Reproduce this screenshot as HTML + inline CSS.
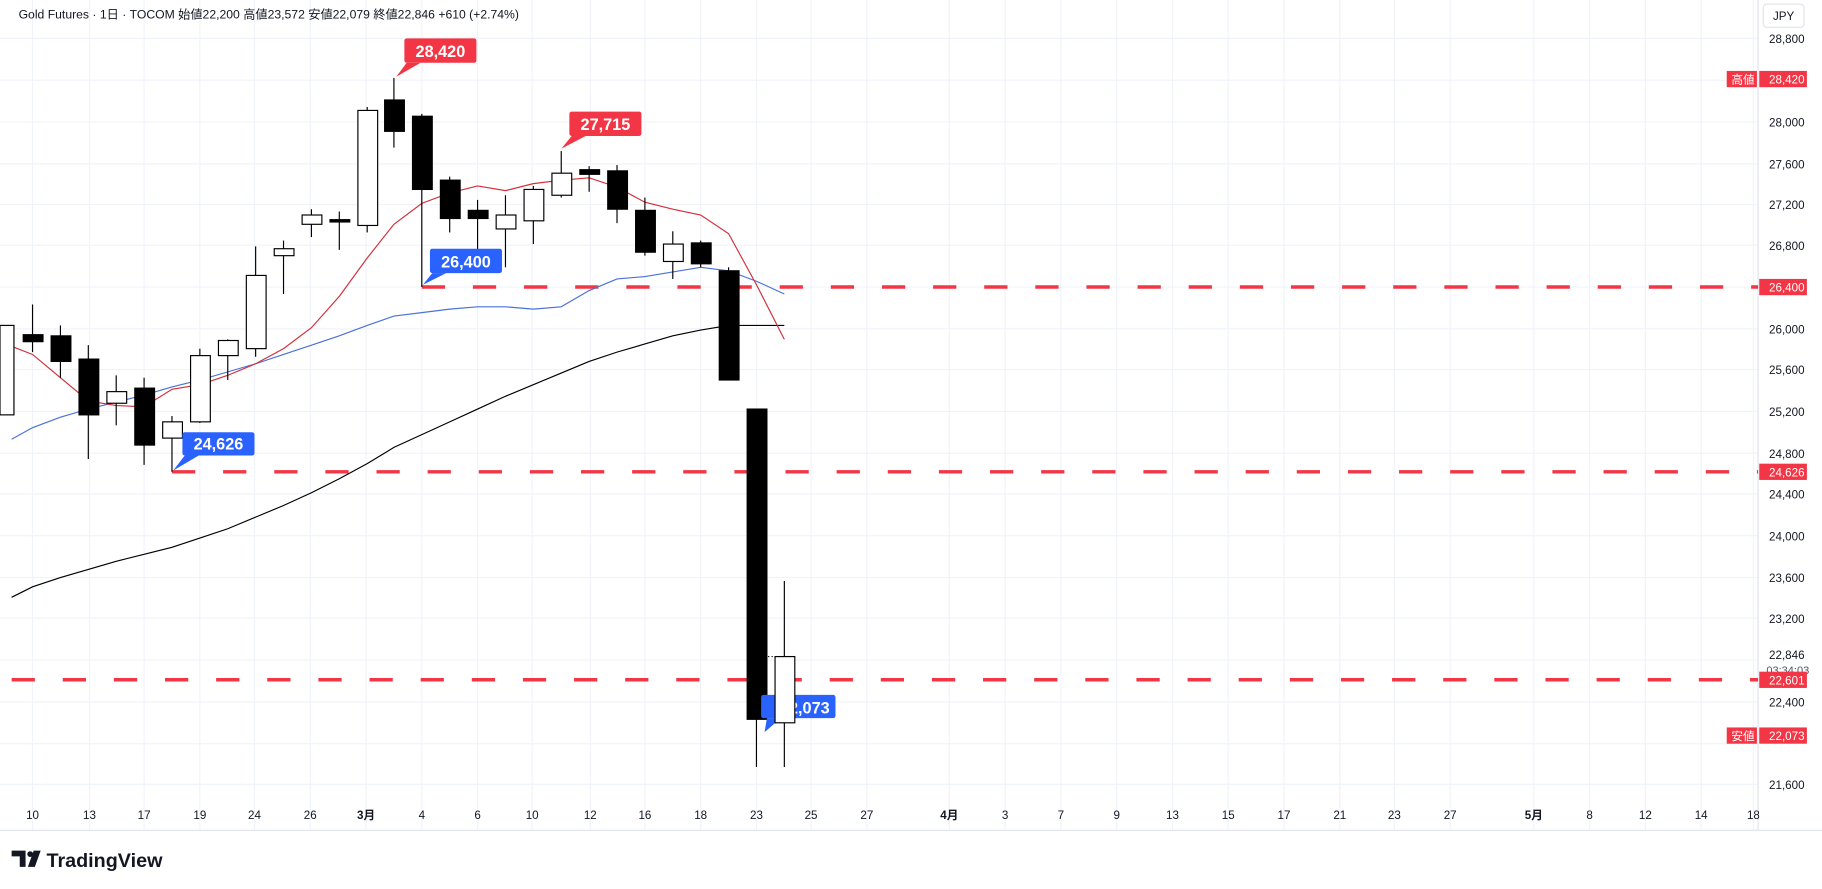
<!DOCTYPE html><html><head><meta charset="utf-8"><style>html,body{margin:0;padding:0;background:#fff}svg{display:block}</style></head><body>
<svg width="1822" height="889" viewBox="0 0 1568 765" xmlns="http://www.w3.org/2000/svg" font-family="Liberation Sans, Noto Sans CJK JP, sans-serif">
<rect width="1568" height="765" fill="#fff"/>
<g stroke="#f0f3fa" stroke-width="1">
<line x1="0" x2="1513" y1="33" y2="33"/><line x1="0" x2="1513" y1="69" y2="69"/><line x1="0" x2="1513" y1="105" y2="105"/><line x1="0" x2="1513" y1="141" y2="141"/><line x1="0" x2="1513" y1="176" y2="176"/><line x1="0" x2="1513" y1="211" y2="211"/><line x1="0" x2="1513" y1="247" y2="247"/><line x1="0" x2="1513" y1="283" y2="283"/><line x1="0" x2="1513" y1="318" y2="318"/><line x1="0" x2="1513" y1="354" y2="354"/><line x1="0" x2="1513" y1="390" y2="390"/><line x1="0" x2="1513" y1="425" y2="425"/><line x1="0" x2="1513" y1="461" y2="461"/><line x1="0" x2="1513" y1="497" y2="497"/><line x1="0" x2="1513" y1="532" y2="532"/><line x1="0" x2="1513" y1="568" y2="568"/><line x1="0" x2="1513" y1="604" y2="604"/><line x1="0" x2="1513" y1="640" y2="640"/><line x1="0" x2="1513" y1="675" y2="675"/>
<line x1="28" x2="28" y1="0" y2="714"/><line x1="77" x2="77" y1="0" y2="714"/><line x1="124" x2="124" y1="0" y2="714"/><line x1="172" x2="172" y1="0" y2="714"/><line x1="219" x2="219" y1="0" y2="714"/><line x1="267" x2="267" y1="0" y2="714"/><line x1="315" x2="315" y1="0" y2="714"/><line x1="363" x2="363" y1="0" y2="714"/><line x1="411" x2="411" y1="0" y2="714"/><line x1="458" x2="458" y1="0" y2="714"/><line x1="508" x2="508" y1="0" y2="714"/><line x1="555" x2="555" y1="0" y2="714"/><line x1="603" x2="603" y1="0" y2="714"/><line x1="651" x2="651" y1="0" y2="714"/><line x1="698" x2="698" y1="0" y2="714"/><line x1="746" x2="746" y1="0" y2="714"/><line x1="817" x2="817" y1="0" y2="714"/><line x1="865" x2="865" y1="0" y2="714"/><line x1="913" x2="913" y1="0" y2="714"/><line x1="961" x2="961" y1="0" y2="714"/><line x1="1009" x2="1009" y1="0" y2="714"/><line x1="1057" x2="1057" y1="0" y2="714"/><line x1="1105" x2="1105" y1="0" y2="714"/><line x1="1153" x2="1153" y1="0" y2="714"/><line x1="1200" x2="1200" y1="0" y2="714"/><line x1="1248" x2="1248" y1="0" y2="714"/><line x1="1320" x2="1320" y1="0" y2="714"/><line x1="1368" x2="1368" y1="0" y2="714"/><line x1="1416" x2="1416" y1="0" y2="714"/><line x1="1464" x2="1464" y1="0" y2="714"/><line x1="1509" x2="1509" y1="0" y2="714"/>
</g>
<line x1="1513" x2="1513" y1="0" y2="714" stroke="#e0e3eb"/>
<line x1="0" x2="1568" y1="714.5" y2="714.5" stroke="#e0e3eb"/>
<g stroke="#f23645" stroke-width="3" stroke-dasharray="20 24">
<line x1="363" x2="1513" y1="247" y2="247"/><line x1="148" x2="1513" y1="406" y2="406"/><line x1="10" x2="1513" y1="585" y2="585"/>
</g>
<polyline fill="none" stroke="#000" stroke-width="1" points="10,514 28,505 52,497 76,490 100,483 124,477 148,471 172,463 196,455 220,445 244,435 268,424 292,412 316,399 339,385 363,374 387,363 411,352 435,341 459,331 483,321 507,311 531,303 555,296 579,289 603,284 627,280 651,280 675,280"/>
<polyline fill="none" stroke="#4c72d9" stroke-width="1" points="10,378 28,368 52,359 76,352 100,346 124,340 148,333 172,327 196,320 220,313 244,305 268,297 292,289 316,280 339,272 363,269 387,266 411,264 435,264 459,266 483,264 507,250 531,240 555,238 579,234 603,230 627,233 651,242 675,253"/>
<polyline fill="none" stroke="#d32f3a" stroke-width="1" points="10,298 28,305 52,325 76,345 100,349 124,350 148,335 172,331 196,323 220,313 244,300 268,282 292,255 316,222 339,193 363,175 387,166 411,160 435,164 459,158 483,155 507,153 531,161 555,174 579,180 603,185 627,201 651,245 675,292"/>
<g stroke="#000" stroke-width="1">
<line x1="12" x2="12" y1="280" y2="357"/><rect x="0" y="280" width="12" height="77" fill="#fff"/>
<line x1="28" x2="28" y1="262" y2="303"/><rect x="20" y="288" width="17" height="6" fill="#000"/>
<line x1="52" x2="52" y1="280" y2="325"/><rect x="44" y="289" width="17" height="22" fill="#000"/>
<line x1="76" x2="76" y1="297" y2="395"/><rect x="68" y="309" width="17" height="48" fill="#000"/>
<line x1="100" x2="100" y1="323" y2="366"/><rect x="92" y="337" width="17" height="10" fill="#fff"/>
<line x1="124" x2="124" y1="325" y2="400"/><rect x="116" y="334" width="17" height="49" fill="#000"/>
<line x1="148" x2="148" y1="358" y2="406"/><rect x="140" y="363" width="17" height="14" fill="#fff"/>
<line x1="172" x2="172" y1="300" y2="364"/><rect x="164" y="306" width="17" height="57" fill="#fff"/>
<line x1="196" x2="196" y1="292" y2="327"/><rect x="188" y="293" width="17" height="13" fill="#fff"/>
<line x1="220" x2="220" y1="212" y2="307"/><rect x="212" y="237" width="17" height="63" fill="#fff"/>
<line x1="244" x2="244" y1="207" y2="253"/><rect x="236" y="214" width="17" height="6" fill="#fff"/>
<line x1="268" x2="268" y1="180" y2="204"/><rect x="260" y="185" width="17" height="8" fill="#fff"/>
<line x1="292" x2="292" y1="182" y2="215"/><rect x="284" y="189" width="17" height="2" fill="#000"/>
<line x1="316" x2="316" y1="92" y2="200"/><rect x="308" y="95" width="17" height="99" fill="#fff"/>
<line x1="339" x2="339" y1="67" y2="127"/><rect x="331" y="86" width="17" height="27" fill="#000"/>
<line x1="363" x2="363" y1="98" y2="247"/><rect x="355" y="100" width="17" height="63" fill="#000"/>
<line x1="387" x2="387" y1="152" y2="200"/><rect x="379" y="155" width="17" height="33" fill="#000"/>
<line x1="411" x2="411" y1="172" y2="217"/><rect x="403" y="181" width="17" height="7" fill="#000"/>
<line x1="435" x2="435" y1="168" y2="230"/><rect x="427" y="185" width="17" height="12" fill="#fff"/>
<line x1="459" x2="459" y1="160" y2="210"/><rect x="451" y="163" width="17" height="27" fill="#fff"/>
<line x1="483" x2="483" y1="130" y2="170"/><rect x="475" y="149" width="17" height="19" fill="#fff"/>
<line x1="507" x2="507" y1="143" y2="165"/><rect x="499" y="146" width="17" height="4" fill="#000"/>
<line x1="531" x2="531" y1="142" y2="192"/><rect x="523" y="147" width="17" height="33" fill="#000"/>
<line x1="555" x2="555" y1="170" y2="220"/><rect x="547" y="181" width="17" height="36" fill="#000"/>
<line x1="579" x2="579" y1="199" y2="240"/><rect x="571" y="210" width="17" height="15" fill="#fff"/>
<line x1="603" x2="603" y1="207" y2="230"/><rect x="595" y="209" width="17" height="18" fill="#000"/>
<line x1="627" x2="627" y1="230" y2="327"/><rect x="619" y="233" width="17" height="94" fill="#000"/>
<line x1="651" x2="651" y1="352" y2="660"/><rect x="643" y="352" width="17" height="267" fill="#000"/>
</g>
<g fill="#2962ff"><rect x="655" y="598" width="64" height="20" rx="2"/><path d="M660 618 L672 618 L658 630 Z"/></g>
<text x="714" y="614" fill="#fff" font-size="14" font-weight="bold" text-anchor="end">22,073</text>
<g stroke="#000"><line x1="675" x2="675" y1="500" y2="660"/><rect x="667" y="565" width="17" height="57" fill="#fff"/></g>
<line x1="643" x2="684" y1="565" y2="565" stroke="#000" stroke-dasharray="1 2"/>
<g fill="#f23645"><rect x="348" y="33" width="62" height="21" rx="2"/><path d="M350 54 L362 54 L341 66 Z"/>
<rect x="490" y="96" width="62" height="21" rx="2"/><path d="M492 117 L504 117 L483 128 Z"/></g>
<g fill="#2962ff"><rect x="370" y="214" width="62" height="21" rx="2"/><path d="M372 235 L384 235 L364 245 Z"/>
<rect x="157" y="372" width="62" height="20" rx="2"/><path d="M159 392 L171 392 L149 405 Z"/></g>
<g fill="#fff" font-size="14" font-weight="bold" text-anchor="middle">
<text x="379" y="49">28,420</text><text x="521" y="112">27,715</text><text x="401" y="230">26,400</text><text x="188" y="387">24,626</text></g>
<text x="16" y="16" font-size="10.5" fill="#131722">Gold Futures · 1日 · TOCOM  始値22,200  高値23,572  安値22,079  終値22,846  +610 (+2.74%)</text>
<rect x="1517.5" y="3.5" width="35" height="20" rx="3" fill="#fff" stroke="#e0e3eb"/>
<text x="1535" y="17" font-size="10" fill="#131722" text-anchor="middle">JPY</text>
<g font-size="10" fill="#131722" text-anchor="end">
<text x="1553" y="37">28,800</text><text x="1553" y="109">28,000</text><text x="1553" y="145">27,600</text><text x="1553" y="180">27,200</text><text x="1553" y="215">26,800</text><text x="1553" y="287">26,000</text><text x="1553" y="322">25,600</text><text x="1553" y="358">25,200</text><text x="1553" y="394">24,800</text><text x="1553" y="429">24,400</text><text x="1553" y="465">24,000</text><text x="1553" y="501">23,600</text><text x="1553" y="536">23,200</text><text x="1553" y="567">22,846</text><text x="1553" y="608">22,400</text><text x="1553" y="679">21,600</text>
</g>
<text x="1557" y="580" font-size="9.5" fill="#50535e" text-anchor="end">03:34:03</text>
<g fill="#f23645"><rect x="1486" y="61" width="26" height="14"/><rect x="1514" y="61" width="41" height="14"/><rect x="1514" y="240" width="41" height="14"/><rect x="1514" y="399" width="41" height="14"/><rect x="1514" y="578" width="41" height="14"/><rect x="1486" y="626" width="26" height="14"/><rect x="1514" y="626" width="41" height="14"/></g>
<g font-size="10" fill="#fff" text-anchor="end"><text x="1553" y="72">28,420</text><text x="1553" y="251">26,400</text><text x="1553" y="410">24,626</text><text x="1553" y="589">22,601</text><text x="1553" y="637">22,073</text>
<text x="1510" y="72">高値</text><text x="1510" y="637">安値</text></g>
<g font-size="10" fill="#131722" text-anchor="middle">
<text x="28" y="705">10</text><text x="77" y="705">13</text><text x="124" y="705">17</text><text x="172" y="705">19</text><text x="219" y="705">24</text><text x="267" y="705">26</text><text x="315" y="705" font-weight="bold">3月</text><text x="363" y="705">4</text><text x="411" y="705">6</text><text x="458" y="705">10</text><text x="508" y="705">12</text><text x="555" y="705">16</text><text x="603" y="705">18</text><text x="651" y="705">23</text><text x="698" y="705">25</text><text x="746" y="705">27</text><text x="817" y="705" font-weight="bold">4月</text><text x="865" y="705">3</text><text x="913" y="705">7</text><text x="961" y="705">9</text><text x="1009" y="705">13</text><text x="1057" y="705">15</text><text x="1105" y="705">17</text><text x="1153" y="705">21</text><text x="1200" y="705">23</text><text x="1248" y="705">27</text><text x="1320" y="705" font-weight="bold">5月</text><text x="1368" y="705">8</text><text x="1416" y="705">12</text><text x="1464" y="705">14</text><text x="1509" y="705">18</text></g>
<rect x="1514" y="695" width="54" height="18" fill="#fff"/>
<g fill="#131722"><path d="M10 732 H22 V746 H17 V737 H10 Z"/><circle cx="26" cy="735" r="2.5"/><path d="M29 732 H35 L30 746 H24 Z"/></g>
<text x="40" y="746" font-size="17" font-weight="bold" fill="#131722">TradingView</text>
</svg>
</body></html>
